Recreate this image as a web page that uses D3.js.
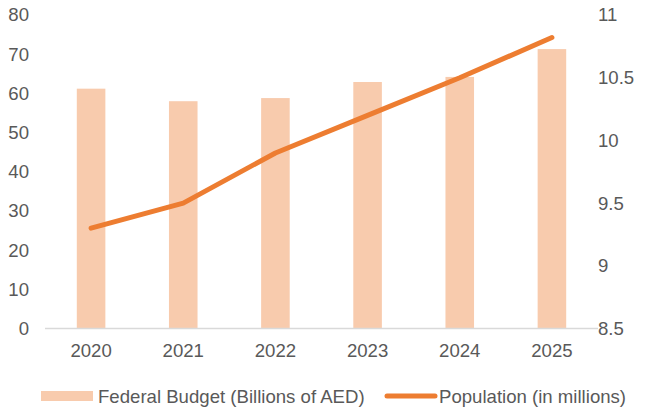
<!DOCTYPE html>
<html>
<head>
<meta charset="utf-8">
<script src="https://cdn.jsdelivr.net/npm/d3@7"></script>
<style>
  body { margin: 0; background: #fff; }
  text { font-family: "Liberation Sans", Arial, sans-serif; fill: #595959; }
</style>
</head>
<body>
<svg id="chart"></svg>
<script>
var years = ["2020", "2021", "2022", "2023", "2024", "2025"];
var budget = [61.2, 58.0, 58.8, 62.9, 64.2, 71.3];
var population = [9.3, 9.5, 9.9, 10.2, 10.5, 10.82];
var leftTicks = [0, 10, 20, 30, 40, 50, 60, 70, 80];
var rightTicks = [8.5, 9, 9.5, 10, 10.5, 11];

var width = 652,
    height = 408,
    margin = {top: 15, right: 54, bottom: 80, left: 45},
    fontSize = "18.6px";

var svg = d3.select("#chart").attr("width", width).attr("height", height);

var x = d3.scaleBand()
    .domain(years)
    .range([margin.left, width - margin.right])
    .paddingInner(0.69)
    .paddingOuter(0.345);

var y = d3.scaleLinear().domain([0, 80]).range([height - margin.bottom + 0.5, margin.top]);
var y2 = d3.scaleLinear().domain([8.5, 11]).range([height - margin.bottom + 0.5, margin.top]);

// bars
svg.selectAll("rect.bar")
    .data(budget)
    .enter().append("rect")
    .attr("class", "bar")
    .attr("x", function(d, i) { return x(years[i]); })
    .attr("width", x.bandwidth())
    .attr("y", function(d) { return y(d); })
    .attr("height", function(d) { return y(0) - y(d); })
    .style("fill", "#F8CBAD");

// baseline
svg.append("line")
    .attr("x1", margin.left).attr("x2", width - margin.right)
    .attr("y1", y(0)).attr("y2", y(0))
    .style("stroke", "#D9D9D9").style("stroke-width", 1.5);

// left axis
var leftAxis = svg.append("g")
    .attr("transform", "translate(" + (margin.left - 16) + ",0)")
    .call(d3.axisLeft(y).tickValues(leftTicks).tickSize(0).tickPadding(0));
leftAxis.select(".domain").remove();
leftAxis.selectAll("text").style("font-size", fontSize).style("fill", "#595959")
    .attr("font-family", null);

// right axis
var rightAxis = svg.append("g")
    .attr("transform", "translate(" + (width - margin.right) + ",0)")
    .call(d3.axisRight(y2).tickValues(rightTicks).tickSize(0).tickPadding(0)
        .tickFormat(function(d) { return String(d); }));
rightAxis.select(".domain").remove();
rightAxis.selectAll("text").attr("x", 0).style("font-size", fontSize).style("fill", "#595959")
    .attr("font-family", null);

// bottom axis labels
var bottomAxis = svg.append("g")
    .attr("transform", "translate(0," + y(0) + ")")
    .call(d3.axisBottom(x).tickSize(0).tickPadding(15));
bottomAxis.select(".domain").remove();
bottomAxis.selectAll("text").style("font-size", fontSize).style("fill", "#595959")
    .attr("font-family", null);

// population line
var line = d3.line()
    .x(function(d, i) { return x(years[i]) + x.bandwidth() / 2; })
    .y(function(d) { return y2(d); });

svg.append("path")
    .datum(population)
    .attr("d", line)
    .style("fill", "none")
    .style("stroke", "#ED7D31")
    .style("stroke-width", 5)
    .style("stroke-linecap", "round")
    .style("stroke-linejoin", "round");

// legend
var legend = svg.append("g").attr("transform", "translate(0,396)");
legend.append("rect")
    .attr("x", 41).attr("y", -5).attr("width", 52).attr("height", 10)
    .style("fill", "#F8CBAD");
legend.append("text")
    .attr("x", 98).attr("y", 0).attr("dy", "0.35em")
    .style("font-size", fontSize)
    .text("Federal Budget (Billions of AED)");
legend.append("line")
    .attr("x1", 387).attr("x2", 435).attr("y1", 0).attr("y2", 0)
    .style("stroke", "#ED7D31").style("stroke-width", 5).style("stroke-linecap", "round");
legend.append("text")
    .attr("x", 439).attr("y", 0).attr("dy", "0.35em")
    .style("font-size", fontSize)
    .text("Population (in millions)");
</script>
</body>
</html>
